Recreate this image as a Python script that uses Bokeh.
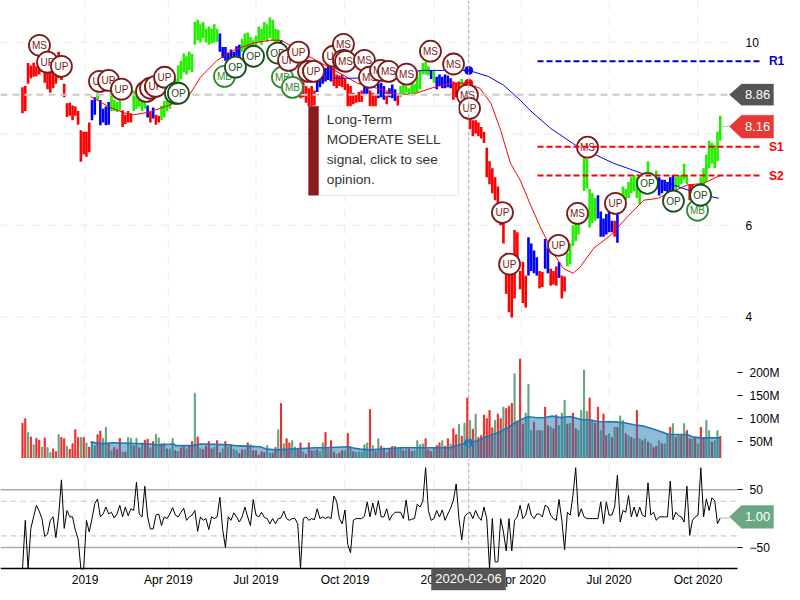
from bokeh.plotting import figure
from bokeh.layouts import column
from bokeh.models import (Range1d, FixedTicker, Label, PolyAnnotation, BoxAnnotation, Arrow)
from bokeh.core.properties import value
from bokeh.embed import file_html
from bokeh.resources import INLINE

FONT = "Liberation Sans"
STEP = 2  # trading days between stored bars

tick_days = [45, 105, 168, 232, 296, 359, 422, 486]
tick_names = ["2019", "Apr 2019", "Jul 2019", "Oct 2019", "2020", "Apr 2020", "Jul 2020", "Oct 2020"]
cross_day = 321
last_day = 502

price_high = [
 9.02,9.05,9.55,9.50,9.56,9.48,9.62,9.72,9.60,9.40,
 9.36,9.42,9.52,9.80,9.62,9.10,8.67,8.68,8.62,8.60,
 8.50,8.08,8.05,8.05,8.25,8.74,8.80,8.89,8.74,8.55,
 8.60,8.70,8.95,8.75,8.70,8.78,8.52,8.42,8.50,8.45,
 8.95,8.90,8.85,8.80,8.85,8.62,8.48,8.58,8.42,8.40,
 8.62,8.72,8.85,8.95,9.05,9.20,9.50,9.60,9.76,9.70,
 9.80,9.75,10.45,10.50,10.40,10.45,10.30,10.35,10.30,10.40,
 10.30,10.20,9.90,9.90,9.78,9.85,9.80,9.92,9.95,10.08,
 10.20,10.22,10.12,10.05,10.15,10.35,10.30,10.45,10.40,10.55,
 10.50,10.30,10.28,10.05,9.95,9.70,9.50,9.30,9.25,9.20,
 9.18,9.15,9.05,9.00,9.05,8.95,9.25,9.40,9.35,9.45,
 9.55,9.60,9.45,9.30,9.28,9.30,9.22,9.10,9.05,8.90,
 8.85,8.92,8.95,9.10,9.12,8.95,8.90,8.88,9.10,9.12,
 9.05,8.92,9.00,9.08,8.98,8.88,9.05,9.08,9.05,9.00,
 9.10,9.10,9.25,9.40,9.55,9.58,9.48,9.38,9.40,9.25,
 9.30,9.25,9.30,9.28,9.22,9.15,9.12,9.15,9.20,9.12,
 8.90,8.60,8.30,8.30,8.25,8.15,8.05,7.70,7.40,7.25,
 7.05,6.85,6.50,6.10,5.40,5.35,5.30,5.90,5.85,5.00,
 5.20,4.90,5.74,5.60,5.45,5.30,5.00,4.98,5.70,5.50,
 5.05,5.00,5.10,5.20,4.90,4.88,5.40,5.60,6.00,6.05,
 6.25,6.50,7.49,7.45,6.80,6.70,6.60,6.66,6.30,6.15,
 6.25,6.30,6.10,6.10,6.30,6.70,6.85,6.80,6.95,7.05,
 7.10,7.05,7.10,7.00,7.05,7.40,7.15,7.05,7.20,7.05,
 7.00,7.00,6.95,7.05,7.10,7.05,7.10,7.10,7.35,7.10,
 6.90,6.90,6.85,6.85,7.05,7.25,7.55,7.85,7.80,7.75,
 8.05,8.40]
price_low = [
 8.45,8.50,9.10,9.22,9.25,9.26,9.30,9.36,9.12,8.98,
 8.90,9.00,9.10,9.22,9.18,8.80,8.37,8.40,8.30,8.40,
 8.20,7.39,7.55,7.50,7.60,8.30,8.42,8.74,8.19,8.25,
 8.19,8.20,8.50,8.50,8.48,8.52,8.15,8.22,8.25,8.25,
 8.50,8.55,8.60,8.50,8.55,8.36,8.25,8.34,8.20,8.25,
 8.30,8.36,8.50,8.55,8.70,8.90,9.00,9.20,9.35,9.30,
 9.40,9.35,9.95,10.05,10.00,10.10,10.00,9.95,9.98,10.00,
 10.02,9.80,9.66,9.60,9.50,9.55,9.45,9.65,9.68,9.80,
 9.85,9.90,9.85,9.88,9.90,10.00,9.95,10.05,10.02,10.10,
 10.05,9.92,9.90,9.75,9.60,9.40,9.20,9.00,8.95,8.85,
 8.78,8.80,8.68,8.60,8.55,8.62,8.92,9.02,9.10,9.15,
 9.18,9.15,9.05,9.00,9.05,9.02,8.96,8.50,8.60,8.65,
 8.68,8.70,8.70,8.85,8.88,8.60,8.55,8.50,8.78,8.80,
 8.75,8.65,8.80,8.78,8.72,8.62,8.80,8.85,8.90,8.85,
 8.85,8.88,8.90,8.98,9.30,9.30,9.28,9.20,9.12,8.98,
 9.05,9.00,9.00,9.02,9.00,8.75,8.80,8.85,9.00,8.75,
 8.45,8.10,7.95,8.01,7.95,7.90,7.80,7.05,6.90,6.70,
 6.55,6.30,6.00,5.60,4.50,4.10,3.98,4.40,5.10,4.60,
 4.30,4.20,4.90,5.00,4.95,4.90,4.62,4.65,5.05,4.95,
 4.68,4.70,4.68,4.85,4.40,4.55,5.10,5.15,5.55,5.65,
 5.80,6.10,6.75,6.80,5.95,6.05,6.10,6.15,5.75,5.75,
 5.80,5.85,5.85,5.75,5.62,6.45,6.50,6.55,6.60,6.70,
 6.75,6.60,6.45,6.70,6.80,6.85,6.85,6.85,6.85,6.65,
 6.70,6.75,6.70,6.75,6.75,6.75,6.85,6.90,7.00,6.90,
 6.55,6.60,6.65,6.65,6.70,6.85,6.95,7.25,7.35,7.25,
 7.40,7.85]
price_runs = [("r",25),("b",2),("g",1),("b",4),("g",4),("r",4),("g",5),("b",1),("r",1),("b",1),("r",2),
 ("g",21),("b",8),("g",14),("b",3),("r",10),("b",6),("r",11),("b",2),("r",3),("b",3),("r",1),("b",3),("r",1),
 ("g",11),("b",1),("g",1),("b",6),("r",3),("g",1),("r",23),("b",4),("r",2),("b",2),("r",3),("b",1),("r",2),
 ("g",11),("b",6),("r",1),("b",1),("g",14),("b",6),("g",5),("r",3),("g",9)]

red_ma_day = [49,63,78,90,104,119,128,140,152,166,178,186,207,227,241,255,270,281,296,308,320,329,337,344,351,358,365,373,382,389,396,401,411,423,435,447,457,478,490,502]
red_ma = [8.82,8.58,8.41,8.47,8.61,8.80,9.24,9.61,9.83,9.99,10.05,10.05,9.68,9.35,9.11,9.00,8.87,8.87,9.02,9.11,9.11,9.00,8.67,8.08,7.36,6.99,6.48,5.93,5.39,5.06,4.95,5.08,5.50,5.78,6.18,6.55,6.59,6.88,6.92,7.09]
blue_ma_day = [224,240,288,299,321,335,346,358,365,380,398,425,450,473,490,501]
blue_ma = [9.22,9.22,9.39,9.39,9.39,9.26,9.07,8.74,8.52,8.12,7.75,7.36,7.09,6.83,6.66,6.59]

mark_day = [12.2,18,28,55.4,61.9,71.2,89.2,92.1,95.7,102.2,110,112.2,145.3,153.2,166.2,183.5,187,194.2,191.4,198.6,205.8,209.4,223.7,230.9,230.9,232.4,246,249.6,257.6,263.3,276.3,293.5,310.1,320.1,321.6,345.3,350.4,385.6,399.3,426.6,406.5,449.6,468.3,485.6,487.8]
mark_price = [9.94,9.57,9.48,9.15,9.17,8.98,8.93,9.0,9.04,9.24,8.89,8.89,9.26,9.46,9.7,9.77,9.24,9.02,9.61,9.79,9.37,9.37,9.7,9.96,9.61,9.59,9.61,9.24,9.39,9.37,9.31,9.81,9.53,8.85,8.56,6.28,5.15,5.56,6.26,6.48,7.71,6.92,6.53,6.33,6.66]
mark_text = ["MS","UP","UP","UP","UP","UP","UP","UP","UP","UP","OP","OP","MB","OP","OP","OP","MB","MB","UP","UP","UP","UP","UP","MS","MS","MS","MS","MS","MS","MS","MS","MS","MS","MS","UP","UP","UP","UP","MS","UP","MS","OP","OP","MB","OP"]

resistance = 9.59
support1 = 7.72
support2 = 7.09
prev_close = 8.86
last_close = 8.16

volume = [
 90,100,70,60,43,57,53,38,58,37, 26,34,28,65,59,56,40,33,45,76,
 59,59,59,47,38,50,41,65,73,57, 81,45,30,37,33,57,27,27,59,57,
 41,57,36,47,53,55,36,50,66,58, 45,47,34,34,57,30,28,36,40,34,
 40,50,155,60,34,32,40,50,34,37, 52,26,34,50,38,43,33,30,24,32,
 32,47,43,30,30,20,28,26,41,25, 25,37,76,133,45,56,47,52,38,32,
 47,27,22,47,30,30,32,28,47,70, 34,52,27,22,25,30,30,68,37,28,
 27,28,27,43,47,120,41,28,56,40, 36,27,34,39,39,34,36,30,32,34,
 28,30,52,43,45,56,32,28,36,41, 47,52,40,56,45,78,65,87,62,90,
 145,96,77,110,59,63,108,100,118,80, 96,110,100,125,122,127,133,198,94,230,
 88,112,175,74,92,74,74,74,125,85, 82,78,108,85,112,140,88,90,112,78,
 74,118,206,116,145,96,90,125,74,110, 63,67,59,81,81,106,96,67,63,59,
 56,118,56,52,56,49,45,37,40,52, 45,45,67,81,89,59,63,63,89,74,
 56,56,58,45,81,56,96,74,49,52, 74,61]
volume_dir = ("rrgrgrrgrg" "grrgrrgrrr" "rgrgrggrrg" "grgrrrgrgg" "rgrgrrgrgg" "rgrggrgrrg"
 "rrgrgrrrrg" "rrgrgrggrr" "grgrrrrrgg" "rrgrgrrggr" "rgrrrgrggr" "grrgrrgrgr" "gggggrgrgr"
 "rgrrrggrgr" "rggggrrrgr" "rgrrgrrgrg" "rgrgrrrrrr" "grrgrrrgrr" "rgggrgrgrr" "grrgggrgrr"
 "ggggrgrrgr" "rgrgrggrgr" "grgrgrgrrg" "rggrgrgrgr" "rgrgrrggrg" "gr")
vol_ma_day = [49,57,66,92,97,109,110,123,128,145,153,171,176,182,211,217,235,238,243,250,272,308,313,320,327,334,342,349,355,360,364,370,376,381,387,394,402,408,414,426,433,440,447,452,459,465,478,483,488,502]
vol_ma = [48.8,45.4,47.4,44.8,42.6,44.8,41.2,41.2,44.8,43.3,41.2,38.5,33.4,31.9,36.3,36.3,38.5,35.7,33.4,31.9,36.3,36.3,41.9,47.4,51,61.2,69.2,80,92.3,99.6,104,101.8,102.5,105.4,102.5,104.7,98.1,97.4,93.8,93,90.9,86.5,83.6,79.2,71.9,65.4,65.4,59.6,58.1,58.1]

oscillator = [
 -87,-3,-87,-17,3,23,13,0,-31,-27, -3,3,-33,5,67,-17,14,3,3,-20,
 -35,-87,-87,-3,-23,0,26,34,3,8, 20,8,11,1,8,23,3,20,5,17,
 14,63,8,3,56,3,-18,-18,6,8, -12,3,0,8,19,6,3,11,18,-3,
 3,6,14,-22,3,-3,0,-19,3,0, 3,37,-19,-50,3,-3,10,3,-6,3,
 20,3,-12,33,6,3,11,2,0,-9, 0,-9,0,1,13,0,-3,0,0,-9,
 -87,0,3,-3,0,-2,17,0,3,0, 3,0,39,30,0,-9,15,-45,-59,-3,
 0,0,0,4,29,3,27,6,31,3, 3,17,-3,6,11,11,11,0,32,-3,
 -1,0,25,20,30,88,14,-3,0,14, 3,15,-3,8,18,32,60,0,-37,3,
 9,11,0,14,3,-3,20,0,-87,0, -75,-75,0,-23,-56,0,-56,-3,3,23,
 0,6,26,6,0,8,8,3,23,20, 6,0,-3,33,-3,-54,11,6,40,88,
 3,17,3,0,0,0,0,0,29,-9, 29,6,6,20,75,-6,14,11,40,3,
 20,3,20,6,3,62,6,11,-3,3, 3,3,3,65,-2,11,5,3,-6,56,
 -29,-3,3,6,88,3,34,14,36,31, -9,1]
osc_last = 1.00

# Colours
PRICE_COL = {"r": "#ff0000", "b": "#0000ff", "g": "#22ee00"}
VOL_COL = {"r": "#e8302c", "g": "#67a37f"}
MARK_COL = {"MS": "#7b1a1a", "UP": "#7b1a1a", "OP": "#1b4d1b", "MB": "#2e8b2e"}

DAY_MIN, DAY_END, DAY_MAX = -15.83, 514.4, 553.96
x_range = Range1d(DAY_MIN, DAY_MAX)
GRID = "#f0f0f0"

def base(height, y_range):
    p = figure(width=792, height=height, x_range=x_range, y_range=y_range, y_axis_location="right",
               toolbar_location=None, output_backend="svg", min_border=0, outline_line_color=None,
               background_fill_color="white")
    p.xgrid.grid_line_color = None
    p.ygrid.grid_line_color = None
    ax = p.yaxis[0]
    ax.fixed_location = DAY_END
    ax.axis_line_color = None
    ax.major_tick_in = 0
    ax.minor_tick_line_color = None
    ax.major_label_text_font = FONT
    ax.major_label_text_font_size = "12px"
    ax.major_label_text_color = "#000000"
    return p

def vgrid(p, y0, y1):
    p.segment(tick_days, [y0] * len(tick_days), tick_days, [y1] * len(tick_days), line_color=GRID,
              line_width=1.5, line_dash="8 8", level="underlay")

def cross(p, y0, y1):
    p.segment([cross_day], [y0], [cross_day], [y1], line_color="#aaaaaa", line_dash="4 2", line_width=1)

def tag(p, x0, x1, x2, y, half, color):
    p.add_layout(PolyAnnotation(xs=[x0, x1, x2, x2, x1], ys=[y, y + half, y + half, y - half, y - half],
                                fill_color=color, fill_alpha=1, line_color=color, line_alpha=0.4, line_width=1))

def caption(p, x, y, text, color="#ffffff", size="13px", style="normal", align="center"):
    p.add_layout(Label(x=x, y=y, text=text, text_color=color, text_font=FONT, text_font_size=size,
                       text_font_style=style, text_align=align, text_baseline="middle"))

# ---- price panel
PY0, PY1 = 3.37, 10.92
p1 = base(345, Range1d(PY0, PY1))
p1.xaxis.visible = False
p1.yaxis[0].ticker = FixedTicker(ticks=[4, 6, 8, 10])
p1.yaxis[0].major_tick_out = 0
p1.yaxis[0].major_tick_line_color = None
p1.yaxis[0].major_label_standoff = 8
vgrid(p1, PY0, PY1)
levels = [4, 6, 8, 10]
p1.segment([DAY_MIN] * 4, levels, [DAY_END] * 4, levels, line_color=GRID, line_width=1.5, line_dash="8 8", level="underlay")

days = [k * STEP for k in range(len(price_high))]
letters = "".join(c * n for c, n in price_runs)
p1.segment(days, price_low, days, price_high, color=[PRICE_COL[c] for c in letters], line_width=2.6)
p1.line(red_ma_day, red_ma, line_color="#ff0000", line_width=1)
p1.line(blue_ma_day, blue_ma, line_color="#0000ff", line_width=1)
p1.segment([DAY_MIN], [prev_close], [508.6], [prev_close], line_color="#c8c8c8", line_width=2, line_dash="7 5")
p1.segment([last_day], [last_close], [508.6], [last_close], line_color="#bbbbbb", line_width=1)
p1.scatter([cross_day], [9.11], size=8, color="#ff0000")
p1.scatter([cross_day], [9.39], size=8, color="#0000ff")
for d, v, t in zip(mark_day, mark_price, mark_text):
    c = MARK_COL[t]
    p1.scatter([d], [v], size=21, marker="circle", fill_color="white", line_color=c, line_width=1.8)
    p1.text([d], [v], text=[t], text_color=c, text_font=value(FONT), text_font_size="10px",
            text_align="center", text_baseline="middle")
cross(p1, PY0, PY1)
for lvl, col, name in [(resistance, "#0000cc", "R1"), (support1, "#ff0000", "S1"), (support2, "#ff0000", "S2")]:
    p1.add_layout(Arrow(end=None, x_start=370.5, y_start=lvl, x_end=531, y_end=lvl,
                        line_color=col, line_width=1.8, line_dash="6 3"))
    caption(p1, 537, lvl, name, color=col, size="12px", style="bold", align="left")
tag(p1, 508.6, 517.3, 540.3, prev_close, 0.23, "#555555")
caption(p1, 528.8, prev_close, "8.86")
tag(p1, 508.6, 517.3, 540.3, last_close, 0.25, "#e53935")
caption(p1, 528.8, last_close, "8.16")
p1.add_layout(BoxAnnotation(left=205.8, right=313.7, top=8.606, bottom=6.657, fill_color="white", fill_alpha=1,
                            line_color="#bbbbbb", line_width=1))
p1.add_layout(BoxAnnotation(left=205.8, right=213, top=8.606, bottom=6.657, fill_color="#8b1a1a", fill_alpha=1,
                            line_color="#8b1a1a", line_width=1))
for y, line in zip([8.32, 7.883, 7.445, 7.007], ["Long-Term", "MODERATE SELL", "signal, click to see", "opinion."]):
    caption(p1, 218.9, y, line, color="#333333", size="13.7px", align="left")

# ---- volume panel
VY0, VY1 = 13, 259.6
p2 = base(113, Range1d(VY0, VY1))
p2.xaxis.visible = False
p2.yaxis[0].ticker = FixedTicker(ticks=[50, 100, 150, 200])
p2.yaxis[0].major_label_overrides = {50: "50M", 100: "100M", 150: "150M", 200: "200M"}
p2.yaxis[0].major_tick_out = 5
p2.yaxis[0].major_tick_line_color = "#000000"
p2.yaxis[0].major_label_standoff = 7
vgrid(p2, VY0, VY1)
vd = [k * STEP for k in range(len(volume))]
p2.vbar(x=vd, top=volume, bottom=0, width=0.8, color=[VOL_COL[c] for c in volume_dir])
p2.varea(x=vol_ma_day, y1=[0] * len(vol_ma), y2=vol_ma, fill_color="#1f77b4", fill_alpha=0.5)
p2.line(vol_ma_day, vol_ma, line_color="#1f77b4", line_width=1.6)
p2.scatter([cross_day], [47.4], size=8, color="#1f77b4")
cross(p2, VY0, VY1)

# ---- oscillator panel
OY0, OY1, OBASE = -127.9, 104, -86.7
p3 = base(134, Range1d(OY0, OY1))
p3.yaxis[0].ticker = FixedTicker(ticks=[-50, 50])
p3.yaxis[0].major_tick_out = 5
p3.yaxis[0].major_tick_line_color = "#000000"
p3.yaxis[0].major_label_standoff = 7
ax = p3.xaxis[0]
ax.fixed_location = OBASE
ax.bounds = (DAY_MIN, DAY_END)
ax.ticker = FixedTicker(ticks=tick_days)
ax.major_label_overrides = dict(zip(tick_days, tick_names))
ax.major_tick_in = 0
ax.major_tick_out = 0
ax.minor_tick_line_color = None
ax.major_tick_line_color = None
ax.axis_line_color = "#000000"
ax.axis_line_width = 1.5
ax.major_label_standoff = 4
ax.major_label_text_font = FONT
ax.major_label_text_font_size = "12px"
ax.major_label_text_color = "#000000"
vgrid(p3, OBASE, OY1)
p3.segment([DAY_MIN] * 2, [50, -50], [DAY_END] * 2, [50, -50], line_color="#aaaaaa", line_width=1.5, level="underlay")
p3.segment([DAY_MIN] * 2, [30, -30], [DAY_END] * 2, [30, -30], line_color="#cccccc", line_width=1.2, line_dash="6 4", level="underlay")
od = [k * STEP for k in range(len(oscillator))]
p3.line(od, oscillator, line_color="#000000", line_width=1)
p3.segment([last_day], [osc_last], [508.6], [osc_last], line_color="#bbbbbb", line_width=1)
cross(p3, OBASE, OY1)
tag(p3, 508.6, 517.3, 540.3, 3, 19.8, "#6aa884")
caption(p3, 528.8, 3, "1.00")
p3.add_layout(PolyAnnotation(xs=[294.2, 347.5, 347.5, 294.2], ys=[OBASE, OBASE, -123.4, -123.4], fill_color="#555555",
                             fill_alpha=1, line_color="#555555", line_alpha=0.5))
caption(p3, 320.9, -104.5, "2020-02-06")

page = column(p1, p2, p3, spacing=0)
open("out.html", "w").write(file_html(page, INLINE))
